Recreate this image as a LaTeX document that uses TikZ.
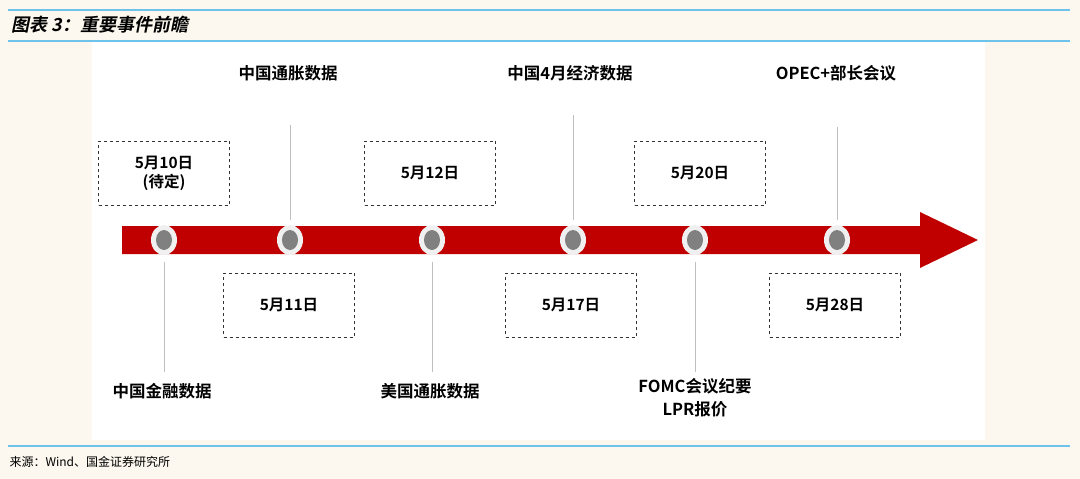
\documentclass[tikz,border=0pt]{standalone}
\usepackage{fontspec}
\usetikzlibrary{shapes.geometric}
\newfontfamily\cjk{Noto Sans CJK SC}
\newfontfamily\cjkb{Noto Sans CJK SC Bold}
\newfontfamily\cjkt[FakeSlant=0.2]{Noto Sans CJK SC Bold}
\definecolor{cream}{HTML}{FCF8EF}
\definecolor{bblue}{HTML}{6EC3EA}
\definecolor{bred}{HTML}{C00000}
\definecolor{dgray}{HTML}{808080}
\begin{document}
\begin{tikzpicture}[x=1pt,y=-1pt,
  box/.style={draw=black!80,dashed,line width=0.6pt,fill=white,minimum width=131pt,minimum height=64pt,inner sep=0pt,align=center,font=\cjkb\fontsize{15.5}{19}\selectfont},
  lab/.style={align=center,font=\cjkb\fontsize{16.5}{22}\selectfont},
  vl/.style={draw=black!25,line width=0.8pt}]
\useasboundingbox (0,0) rectangle (1080,479);
\fill[cream] (0,0) rectangle (1080,479);
\fill[white] (92,42) rectangle (985,440);
\draw[bblue,line width=1.2pt] (8,10) -- (1070,10);
\draw[bblue,line width=1.2pt] (8,41) -- (1070,41);
\draw[bblue,line width=1.2pt] (8,446) -- (1070,446);
\node[anchor=west,font=\cjkt\fontsize{18}{20}\selectfont] (title) at (8,25) {图表 3：重要事件前瞻};
\node[anchor=west,font=\cjk\fontsize{12}{14}\selectfont] (src) at (6,462) {来源：Wind、国金证券研究所};
% arrow
\fill[bred] (122,226) -- (920,226) -- (920,212) -- (978,240) -- (920,268) -- (920,254) -- (122,254) -- cycle;
% boxes
\node[box] (b10) at (164,173) {5月10日\\(待定)};
\node[box] (b12) at (430,173) {5月12日};
\node[box] (b20) at (700,173) {5月20日};
\node[box] (b11) at (289,305) {5月11日};
\node[box] (b17) at (571,305) {5月17日};
\node[box] (b28) at (835,305) {5月28日};
% labels
\node[lab] (l1) at (288,73) {中国通胀数据};
\node[lab] (l2) at (570,73) {中国4月经济数据};
\node[lab] (l3) at (836,73) {OPEC+部长会议};
\node[lab] (l4) at (162,391) {中国金融数据};
\node[lab] (l5) at (430,391) {美国通胀数据};
\node[lab,font=\cjkb\fontsize{16.5}{23}\selectfont] (l6) at (695,398) {FOMC会议纪要\\LPR报价};
% dots and lines
\foreach \n/\x/\a/\b in {d1/164/262/372,d2/290/125/220,d3/432/262/372,d4/573/115/220,d5/695/262/372,d6/837/127/220}{
  \coordinate (\n a) at (\x,\a);
  \coordinate (\n b) at (\x,\b);
  \draw[vl] (\n a) -- (\n b);
  \node[ellipse,fill=white!94!black,minimum width=26pt,minimum height=30pt,inner sep=0pt] (\n) at (\x,240) {};
  \node[ellipse,fill=dgray,minimum width=16pt,minimum height=20pt,inner sep=0pt] at (\n) {};
}
\end{tikzpicture}
\end{document}
